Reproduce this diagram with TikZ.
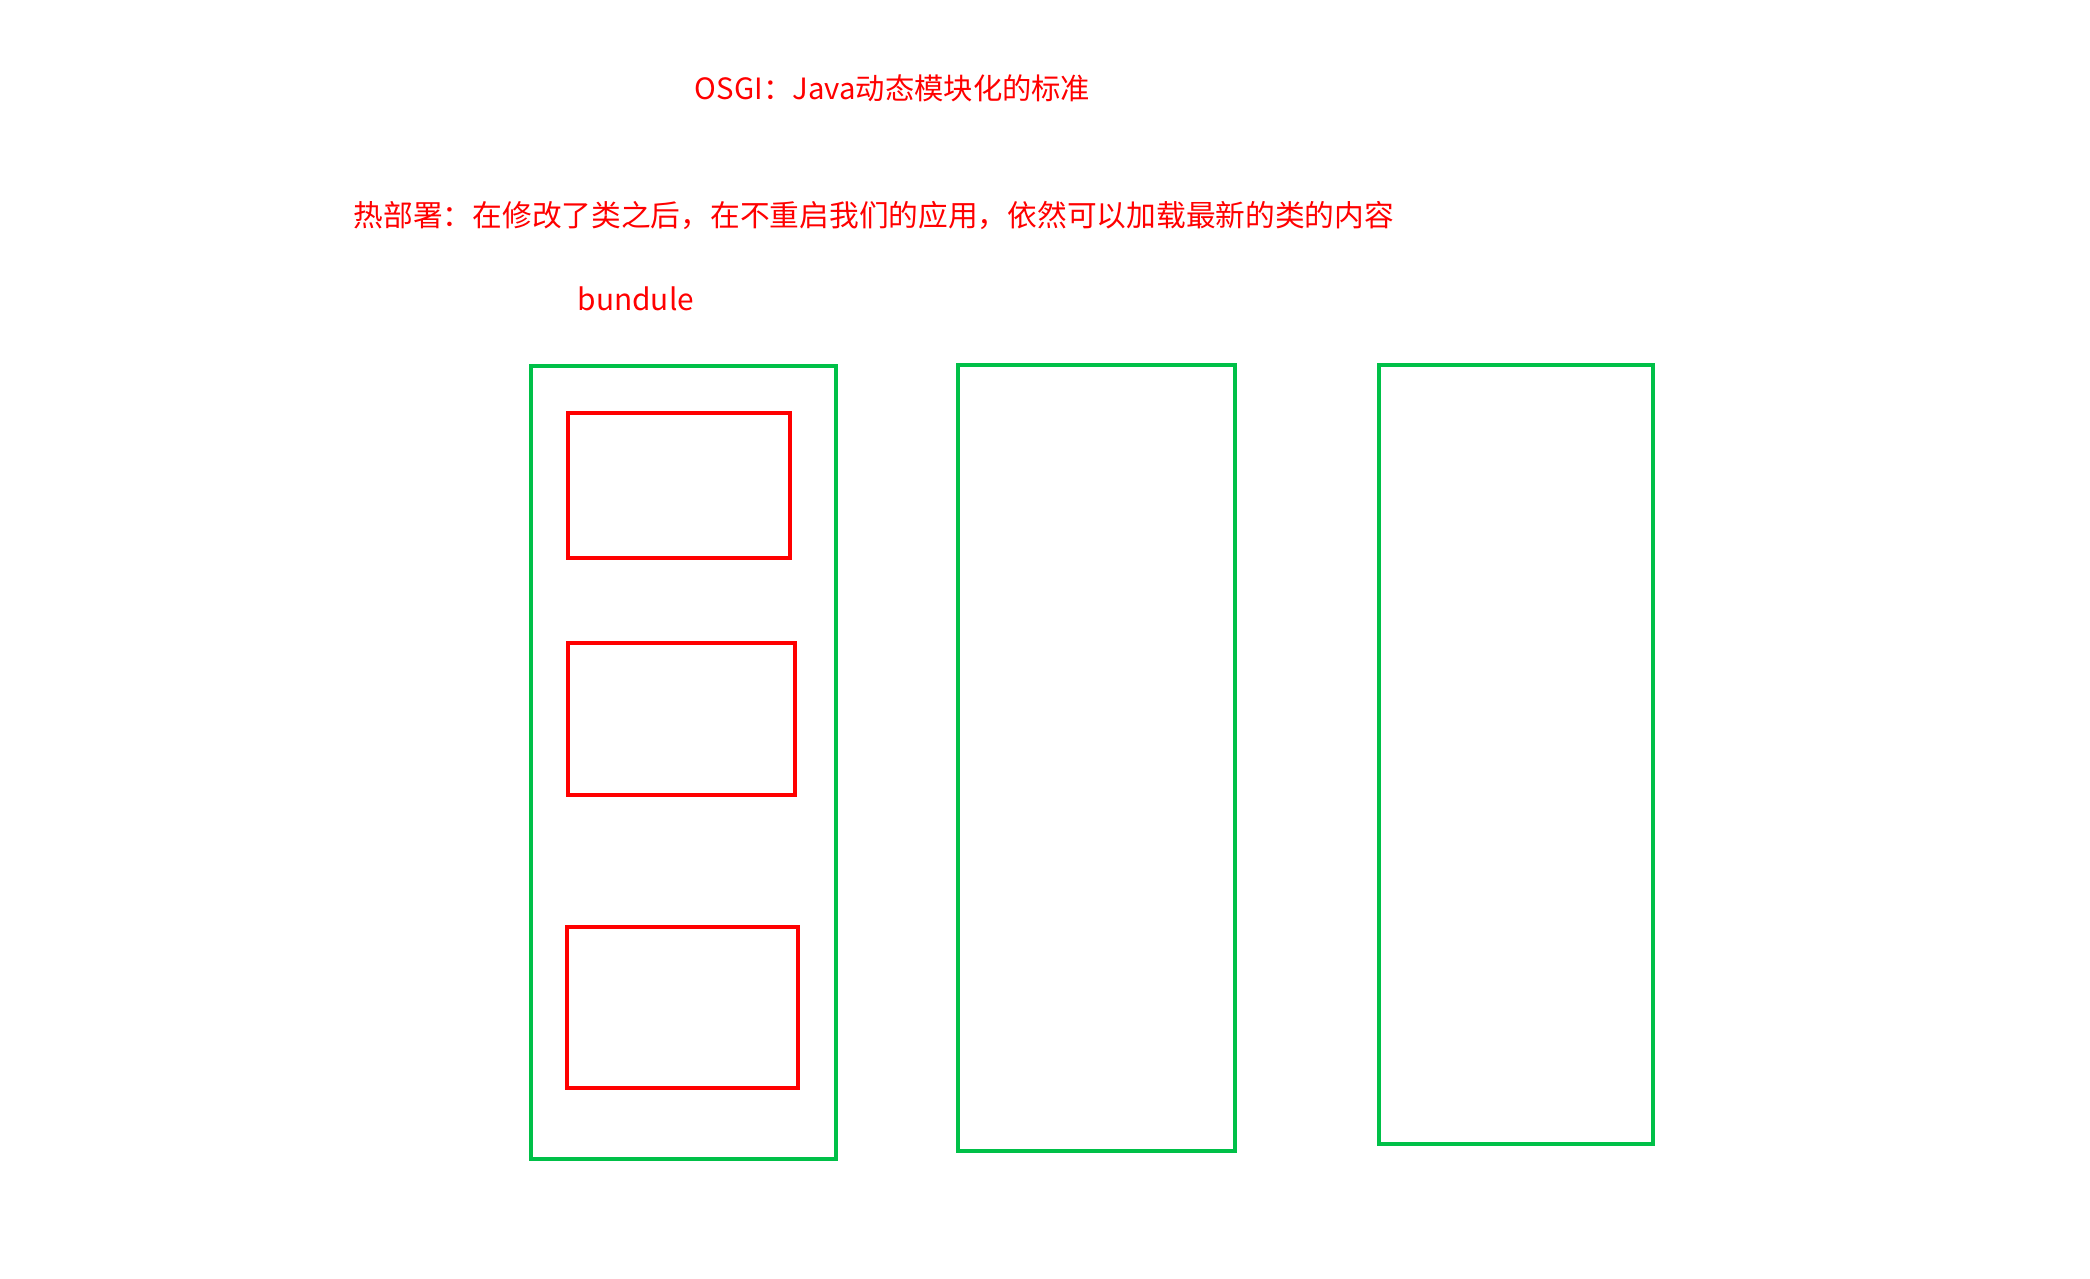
\documentclass[tikz,border=0pt]{standalone}
\usepackage{fontspec}
\setmainfont{Noto Sans CJK SC}
\definecolor{bred}{RGB}{255,0,0}
\definecolor{bgreen}{RGB}{0,192,72}
\begin{document}
\begin{tikzpicture}[x=0.5pt,y=-0.5pt,
  gbox/.style={draw=bgreen,line width=1.5pt,rectangle,inner sep=0pt,anchor=north west},
  rbox/.style={draw=bred,line width=1.5pt,rectangle,inner sep=0pt,anchor=north west},
  lbl/.style={text=bred,inner sep=0pt,anchor=west,font=\fontsize{11pt}{13pt}\selectfont}]
\useasboundingbox[fill=white] (0,0) rectangle (1568,959);
\node[lbl] (title) at (521,66) {OSGI：Java动态模块化的标准};
\node[lbl,font=\fontsize{11.15pt}{13pt}\selectfont] (hot) at (265,162) {热部署：在修改了类之后，在不重启我们的应用，依然可以加载最新的类的内容};
\node[lbl,font=\fontsize{11.2pt}{13pt}\selectfont] (bund) at (433,224) {bundule};
\node[gbox,minimum width=114.5pt,minimum height=297.5pt] (b1) at (397,273) {};
\node[gbox,minimum width=104pt,minimum height=295pt] (b2) at (717,272) {};
\node[gbox,minimum width=103pt,minimum height=292.5pt] (b3) at (1033,272) {};
\node[rbox,minimum width=83pt,minimum height=54.5pt] (c1) at (425,308) {};
\node[rbox,minimum width=85pt,minimum height=57pt] (c2) at (425,481) {};
\node[rbox,minimum width=86.5pt,minimum height=60.5pt] (c3) at (424,694) {};
\end{tikzpicture}
\end{document}
